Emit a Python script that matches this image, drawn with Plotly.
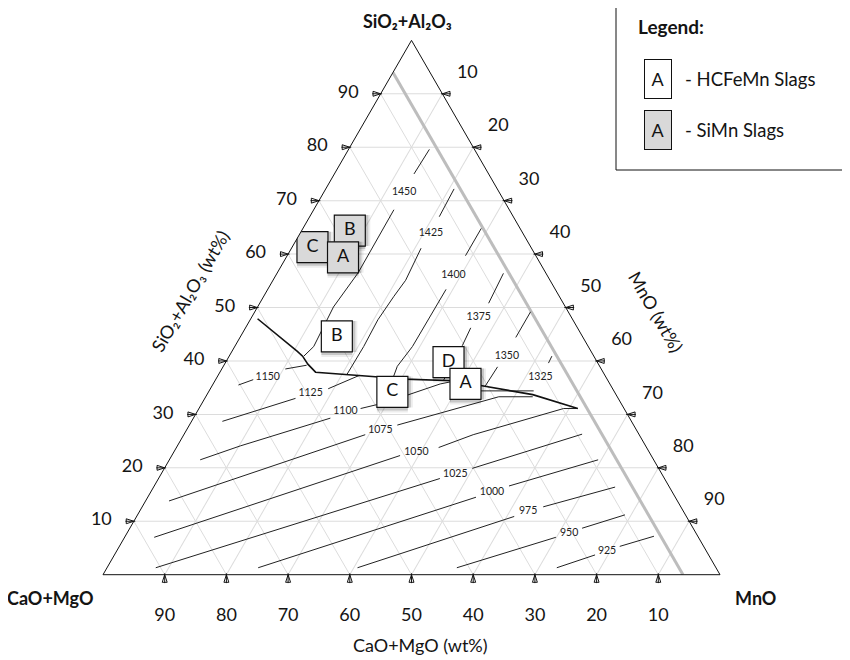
import plotly.graph_objects as go

# ---------------- data (wt%): SiO2+Al2O3 (a), CaO+MgO (b), MnO (c) ----------------
hcfemn_labels = ["B", "C", "D", "A"]
hcfemn_sio2 = [44.6, 34.2, 39.8, 35.7]
hcfemn_cao = [39.8, 36.0, 24.1, 23.4]
hcfemn_mno = [15.6, 29.8, 36.1, 40.9]

simn_labels = ["C", "B", "A"]
simn_sio2 = [61.3, 64.4, 59.4]
simn_cao = [35.4, 27.8, 31.4]
simn_mno = [3.3, 7.8, 9.2]

# phase boundary (heavier line)
boundary_sio2 = [47.9, 41.8, 40.9, 39.4, 37.9, 37.0, 36.6, 36.3, 35.4, 33.7, 31.1]
boundary_cao = [51.0, 47.6, 47.2, 47.1, 46.6, 36.8, 32.7, 25.2, 21.1, 13.5, 7.5]
boundary_mno = [1.1, 10.6, 11.9, 13.5, 15.5, 26.2, 30.7, 38.5, 43.5, 52.8, 61.4]

# grey guide line at constant CaO+MgO
guide_cao = 6

# isotherms (points as (SiO2+Al2O3, CaO+MgO, MnO); None = gap left for the label)
iso_1450 = [(79.6, 7.3, 13.1), (75.0, 12.1, 12.9), None, (68.3, 18.7, 13.0), (56.5, 30.4, 13.1),
            (50.1, 37.6, 12.3), (42.7, 44.5, 12.8), (40.9, 47.0, 12.1)]
iso_1425 = [(72.2, 7.0, 20.8), (67.0, 12.0, 21.0), None, (61.1, 17.9, 21.0), (55.1, 23.4, 21.5),
            (52.1, 26.8, 21.1), (47.7, 31.6, 20.7), (42.7, 36.4, 20.9), (37.5, 41.7, 20.8)]
iso_1400 = [(64.8, 6.3, 28.9), (59.7, 11.4, 28.9), None, (53.4, 17.7, 28.9), (42.7, 28.5, 28.8),
            (39.0, 32.8, 28.2), (36.8, 34.6, 28.6)]
iso_1375 = [(56.4, 6.9, 36.7), (50.8, 12.1, 37.1), None, (46.2, 17.3, 36.5), (42.9, 20.3, 36.8),
            (36.4, 26.6, 37.0)]
iso_1350 = [(49.2, 6.1, 44.7), (44.4, 10.9, 44.7), None, (38.9, 16.6, 44.5), (35.3, 20.4, 44.3)]
iso_1325 = [(40.9, 6.8, 52.3), (39.6, 8.0, 52.4), None, (34.4, 13.0, 52.6), (34.4, 21.6, 44.0)]
iso_1150 = [(35.5, 60.3, 4.2), (36.5, 57.4, 6.1), None, (38.5, 51.2, 10.3), (39.2, 47.4, 13.4)]
iso_1125 = [(28.7, 66.3, 5.0), (33.0, 52.3, 14.7), None, (34.8, 46.1, 19.1), (37.3, 39.8, 22.9)]
iso_1100 = [(21.5, 73.5, 5.0), (24.1, 65.7, 10.2), (29.3, 48.5, 22.2), None, (31.1, 42.7, 26.2),
            (31.9, 39.4, 28.7), (33.5, 34.2, 32.3), (35.7, 27.5, 36.8), (36.2, 25.1, 38.7)]
iso_1075 = [(13.8, 82.4, 3.8), (26.2, 44.4, 29.4), None, (28.0, 38.3, 33.7), (33.3, 19.2, 47.5),
            (33.3, 13.7, 53.0)]
iso_1050 = [(7.0, 88.2, 4.8), (22.3, 40.7, 37.0), None, (23.8, 33.7, 42.5), (26.2, 26.9, 46.9),
            (31.1, 9.8, 59.1), (31.1, 7.5, 61.4)]
iso_1025 = [(1.3, 90.8, 7.9), (18.0, 36.4, 45.6), None, (19.9, 30.2, 49.9), (26.3, 9.2, 64.5)]
iso_1000 = [(1.3, 74.2, 24.5), (14.5, 32.3, 53.2), None, (16.6, 25.9, 57.5), (21.5, 9.0, 69.5)]
iso_975 = [(1.3, 58.1, 40.6), (10.9, 27.9, 61.2), None, (12.7, 22.3, 65.0), (16.4, 8.8, 74.8)]
iso_950 = [(1.3, 42.0, 56.7), (7.0, 23.1, 69.9), None, (8.7, 18.0, 73.3), (11.2, 9.8, 79.0)]
iso_925 = [(1.3, 25.8, 72.9), (3.7, 18.4, 77.9), None, (5.3, 13.6, 81.1), (7.2, 7.1, 85.7)]

iso_temps = [1450, 1425, 1400, 1375, 1350, 1325, 1150, 1125, 1100, 1075, 1050, 1025, 1000, 975, 950, 925]
iso_label_sio2 = [71.6, 63.9, 56.0, 48.2, 40.9, 37.0, 37.0, 33.9, 30.6, 27.1, 22.8, 18.8, 15.5, 11.8, 7.7, 4.4]
iso_label_cao = [15.4, 14.9, 15.2, 15.0, 14.1, 10.6, 54.8, 49.4, 45.4, 41.5, 37.8, 33.5, 29.2, 25.2, 20.6, 16.1]
iso_label_mno = [13.0, 21.2, 28.8, 36.8, 45.0, 52.4, 8.2, 16.7, 24.0, 31.4, 39.4, 47.7, 55.3, 63.0, 71.7, 79.5]

tick_values = [10, 20, 30, 40, 50, 60, 70, 80, 90]
tick_labels = [str(v) for v in tick_values]

FONT = "Lato"
INK = "#141414"
iso_lines = [iso_1450, iso_1425, iso_1400, iso_1375, iso_1350, iso_1325, iso_1150, iso_1125,
             iso_1100, iso_1075, iso_1050, iso_1025, iso_1000, iso_975, iso_950, iso_925]

# page body has an 8px margin, so the figure is 8px smaller than the window on each axis
W, H = 842, 652
OFF = 8
def px(x):
    return (x - OFF) / W
def py(y):
    return 1 - (y - OFF) / H

fig = go.Figure()

# grey guide line
fig.add_trace(go.Scatterternary(
    a=[100 - guide_cao, 0], b=[guide_cao, guide_cao], c=[0, 100 - guide_cao],
    mode="lines", line=dict(color="#bdbdbd", width=3), hoverinfo="skip", showlegend=False))

# isotherms
ia, ib, ic = [], [], []
for pts in iso_lines:
    for p in pts + [None]:
        if p is None:
            ia.append(None); ib.append(None); ic.append(None)
        else:
            ia.append(p[0]); ib.append(p[1]); ic.append(p[2])
fig.add_trace(go.Scatterternary(
    a=ia, b=ib, c=ic, mode="lines", connectgaps=False,
    line=dict(color="#222222", width=1), hoverinfo="skip", showlegend=False))

# isotherm labels
fig.add_trace(go.Scatterternary(
    a=iso_label_sio2, b=iso_label_cao, c=iso_label_mno, mode="text",
    text=[str(t) for t in iso_temps], textposition="middle center",
    textfont=dict(family=FONT, size=10.5, color="#222222"), hoverinfo="skip", showlegend=False))

# boundary
fig.add_trace(go.Scatterternary(
    a=boundary_sio2, b=boundary_cao, c=boundary_mno, mode="lines",
    line=dict(color="#111111", width=1.6), hoverinfo="skip", showlegend=False))

# arrow-style tick marks on the three edges (head + short shaft)
n = len(tick_values)
edge_pts = [
    (tick_values, [100 - v for v in tick_values], [0] * n, 90),    # left edge, points right
    ([0] * n, tick_values, [100 - v for v in tick_values], 0),     # bottom edge, points up
    ([100 - v for v in tick_values], [0] * n, tick_values, -90),   # right edge, points left
]
for ea, eb, ec, ang in edge_pts:
    fig.add_trace(go.Scatterternary(
        a=ea, b=eb, c=ec, mode="markers", cliponaxis=False, hoverinfo="skip", showlegend=False,
        marker=dict(symbol="line-ns", size=7, angle=ang, standoff=3.5, color=INK,
                    line=dict(width=1, color=INK))))
    fig.add_trace(go.Scatterternary(
        a=ea, b=eb, c=ec, mode="markers", cliponaxis=False, hoverinfo="skip", showlegend=False,
        marker=dict(symbol="arrow-open", size=8, angle=ang, color=INK, line=dict(width=1, color=INK))))

# sample boxes with a soft drop shadow (one set of traces per point so overlap order is kept)
def add_boxes(labels, sa, sb, sc, fill, name):
    for lab, a, b, c in zip(labels, sa, sb, sc):
        for ang, so, col in [(0, 5, "rgba(0,0,0,0.07)"), (-90, 5, "rgba(0,0,0,0.07)"),
                             (0, 3, "rgba(0,0,0,0.16)"), (-90, 3, "rgba(0,0,0,0.16)")]:
            fig.add_trace(go.Scatterternary(
                a=[a], b=[b], c=[c], mode="markers", hoverinfo="skip", showlegend=False,
                marker=dict(symbol="square", size=31, angle=ang, standoff=so, color=col,
                            line=dict(width=0))))
        fig.add_trace(go.Scatterternary(
            a=[a], b=[b], c=[c], mode="markers+text", text=[lab],
            textposition="middle center",
            textfont=dict(family=FONT, size=18, color="#111111"),
            marker=dict(symbol="square", size=31, color=fill, line=dict(color="#111111", width=1.2)),
            name=name, showlegend=False, hoverinfo="name+text"))

add_boxes(simn_labels, simn_sio2, simn_cao, simn_mno, "#d9d9d9", "SiMn Slags")
add_boxes(hcfemn_labels, hcfemn_sio2, hcfemn_cao, hcfemn_mno, "white", "HCFeMn Slags")

def axis(ticklen, texts):
    return dict(
        tickmode="array", tickvals=tick_values, ticktext=texts, ticks="outside", ticklen=ticklen,
        tickwidth=1, tickcolor="rgba(0,0,0,0)", linecolor="#111111", linewidth=1, showline=True,
        showgrid=True, gridcolor="#dcdcdc", gridwidth=1, title=dict(text=""),
        tickfont=dict(family=FONT, size=18, color=INK))

fig.update_layout(
    width=W, height=H, margin=dict(l=0, r=0, t=0, b=0),
    paper_bgcolor="white", showlegend=False,
    font=dict(family=FONT, color=INK),
    ternary=dict(
        sum=100, bgcolor="white",
        domain=dict(x=[px(103), px(720)], y=[0.1206, 0.9606]),
        aaxis=axis(19, tick_labels),
        baxis=axis(0, ["<br>" + t for t in tick_labels]),
        caxis=axis(23, tick_labels)),
)

ann = []
def add_ann(text, x, y, size=18, angle=0, xanchor="center", bold=False):
    ann.append(dict(text=("<b>%s</b>" % text) if bold else text, x=px(x), y=py(y), xref="paper", yref="paper",
                    showarrow=False, textangle=angle, xanchor=xanchor, yanchor="middle",
                    font=dict(family=FONT, size=size, color=INK)))

add_ann("SiO\u2082+Al\u2082O\u2083", 407, 21, size=18, bold=True)
add_ann("CaO+MgO", 50, 598, size=18, bold=True)
add_ann("MnO", 755, 598, size=18, bold=True)
add_ann("SiO\u2082+Al\u2082O\u2083 (wt%)", 190, 291, size=18, angle=-60)
add_ann("MnO (wt%)", 656, 312, size=18, angle=60)
add_ann("CaO+MgO (wt%)", 420, 645, size=18)

# legend panel
add_ann("Legend:", 636, 27, size=19, xanchor="left", bold=True)
add_ann("- HCFeMn Slags", 683, 79, size=18.5, xanchor="left")
add_ann("- SiMn Slags", 683, 130, size=18.5, xanchor="left")
for yy, fill in [(79, "white"), (130, "#d9d9d9")]:
    ann.append(dict(text="A", x=px(658), y=py(yy), xref="paper", yref="paper", showarrow=False,
                    xanchor="center", yanchor="middle",
                    width=26, height=38, bgcolor=fill, bordercolor="#111111", borderwidth=1, borderpad=0,
                    font=dict(family=FONT, size=18, color=INK)))
fig.update_layout(annotations=ann)
fig.add_shape(type="rect", xref="paper", yref="paper", x0=px(616), x1=px(846), y0=py(170), y1=py(4),
              line=dict(color="#111111", width=1), fillcolor="rgba(0,0,0,0)")

fig.write_html("out.html")
